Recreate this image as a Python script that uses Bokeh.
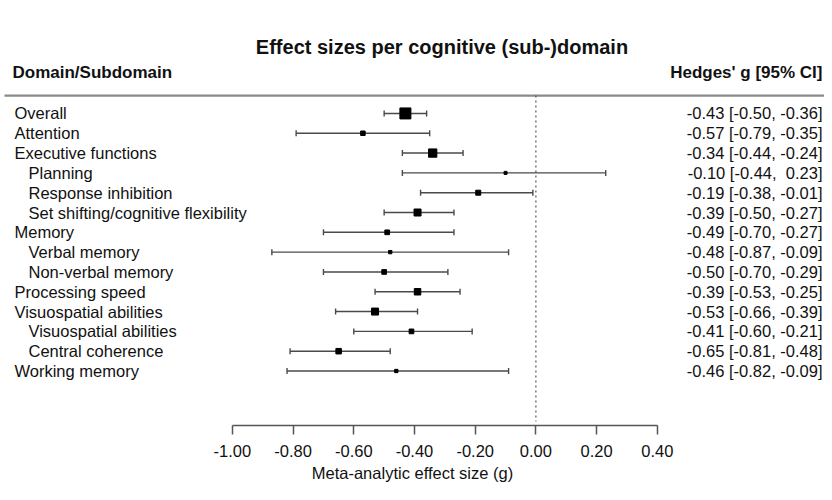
import math
from bokeh.plotting import figure
from bokeh.models import Range1d, FixedTicker, NumeralTickFormatter, ColumnDataSource
from bokeh.core.properties import value
from bokeh.embed import file_html
from bokeh.resources import INLINE

# ---------------- data ----------------
labels = ["Overall", "Attention", "Executive functions", "Planning", "Response inhibition",
          "Set shifting/cognitive flexibility", "Memory", "Verbal memory", "Non-verbal memory",
          "Processing speed", "Visuospatial abilities", "Visuospatial abilities",
          "Central coherence", "Working memory"]
levels = [0, 0, 0, 1, 1, 1, 0, 1, 1, 0, 0, 1, 1, 0]
estimates = [-0.43, -0.57, -0.34, -0.10, -0.19, -0.39, -0.49, -0.48, -0.50, -0.39, -0.53, -0.41, -0.65, -0.46]
lower = [-0.50, -0.79, -0.44, -0.44, -0.38, -0.50, -0.70, -0.87, -0.70, -0.53, -0.66, -0.60, -0.81, -0.82]
upper = [-0.36, -0.35, -0.24, 0.23, -0.01, -0.27, -0.27, -0.09, -0.29, -0.25, -0.39, -0.21, -0.48, -0.09]
weights = [11, 4.5, 8.3, 3, 5, 7, 4.7, 3.3, 4.7, 6.5, 7, 4.7, 5.5, 3.3]  # relative square size
tick_values = [-1.0, -0.8, -0.6, -0.4, -0.2, 0.0, 0.2, 0.4]

title_text = "Effect sizes per cognitive (sub-)domain"
left_header = "Domain/Subdomain"
right_header = "Hedges' g [95% CI]"
x_title = "Meta-analytic effect size (g)"

# ---------------- layout helpers ----------------
W, H = 824, 484
PX0 = 535.4          # canvas x of g = 0
PPU = 303.5          # pixels per unit of g
ROW0 = 114           # canvas y of first row
ROWH = 20            # pixels per row
BOTTOM_BORDER = 55
FRAME_BOTTOM = H - BOTTOM_BORDER

def gx(px):  # canvas px -> data x
    return (px - PX0) / PPU

def ry(py):  # canvas py -> row value
    return 1 + (py - ROW0) / ROWH

FONT = value("Liberation Sans")
FS = "16.5px"

p = figure(width=W, height=H, output_backend="svg", toolbar_location=None, tools="",
           x_range=Range1d(gx(0), gx(W)), y_range=Range1d(ry(FRAME_BOTTOM), ry(0)),
           y_axis_location=None, min_border_left=0, min_border_right=0,
           min_border_top=0, min_border_bottom=BOTTOM_BORDER)
p.outline_line_color = None
p.xgrid.visible = False
p.ygrid.visible = False
p.background_fill_color = "white"
p.border_fill_color = "white"

rows = list(range(1, len(labels) + 1))
ci_text = [f"{e:.2f} [{l:.2f}, {u:5.2f}]".replace(",  ", ", \u00a0") for e, l, u in zip(estimates, lower, upper)]
label_x = [gx(14) if lv == 0 else gx(28) for lv in levels]

src = ColumnDataSource(dict(row=rows, est=estimates, lo=lower, hi=upper, w=weights,
                            lab=labels, labx=label_x, ci=ci_text))

# header line and reference line
p.segment(x0=[gx(4)], y0=[ry(96)], x1=[gx(W)], y1=[ry(96)], line_color="#8a8a8a", line_width=2.2)
p.segment(x0=[0.0], y0=[ry(96)], x1=[0.0], y1=[ry(425)], line_color="#555555",
          line_width=1.2, line_dash="2 3")

# CIs
p.segment(x0="lo", y0="row", x1="hi", y1="row", source=src, line_color="#4a4a4a", line_width=1.4)
p.scatter(x="lo", y="row", source=src, marker="dash", angle=math.pi / 2, size=6,
          line_color="#4a4a4a", line_width=1.4)
p.scatter(x="hi", y="row", source=src, marker="dash", angle=math.pi / 2, size=6,
          line_color="#4a4a4a", line_width=1.4)
p.scatter(x="est", y="row", source=src, marker="square", size="w",
          fill_color="black", line_color="black")

# texts
p.text(x="labx", y="row", text="lab", source=src, text_font=FONT, text_font_size=FS,
       text_baseline="middle", text_align="left", text_color="#111111")
p.text(x=value(gx(822)), y="row", text="ci", source=src, text_font=FONT, text_font_size=FS,
       text_baseline="middle", text_align="right", text_color="#111111")
p.text(x=[gx(441.5)], y=[ry(47)], text=[title_text], text_font=FONT, text_font_size="20px",
       text_font_style="bold", text_baseline="middle", text_align="center", text_color="#111111")
p.text(x=[gx(12)], y=[ry(73)], text=[left_header], text_font=FONT, text_font_size="17px",
       text_font_style="bold", text_baseline="middle", text_align="left", text_color="#111111")
p.text(x=[gx(822)], y=[ry(73)], text=[right_header], text_font=FONT, text_font_size="17px",
       text_font_style="bold", text_baseline="middle", text_align="right", text_color="#111111")

# axis
ax = p.xaxis[0]
ax.ticker = FixedTicker(ticks=tick_values)
ax.formatter = NumeralTickFormatter(format="0.00")
ax.bounds = (tick_values[0], tick_values[-1])
ax.axis_line_color = "#555555"
ax.axis_line_width = 1.5
ax.major_tick_line_color = "#555555"
ax.major_tick_line_width = 1.5
ax.major_tick_in = 0
ax.major_tick_out = 9
ax.minor_tick_line_color = None
ax.major_label_standoff = 10
ax.major_label_text_font = "Liberation Sans"
ax.major_label_text_font_size = FS
ax.major_label_text_color = "#111111"
ax.axis_label = x_title
ax.axis_label_standoff = 4
ax.axis_label_text_font = "Liberation Sans"
ax.axis_label_text_font_size = FS
ax.axis_label_text_font_style = "normal"
ax.axis_label_text_color = "#111111"

open("out.html", "w").write(file_html(p, INLINE))
